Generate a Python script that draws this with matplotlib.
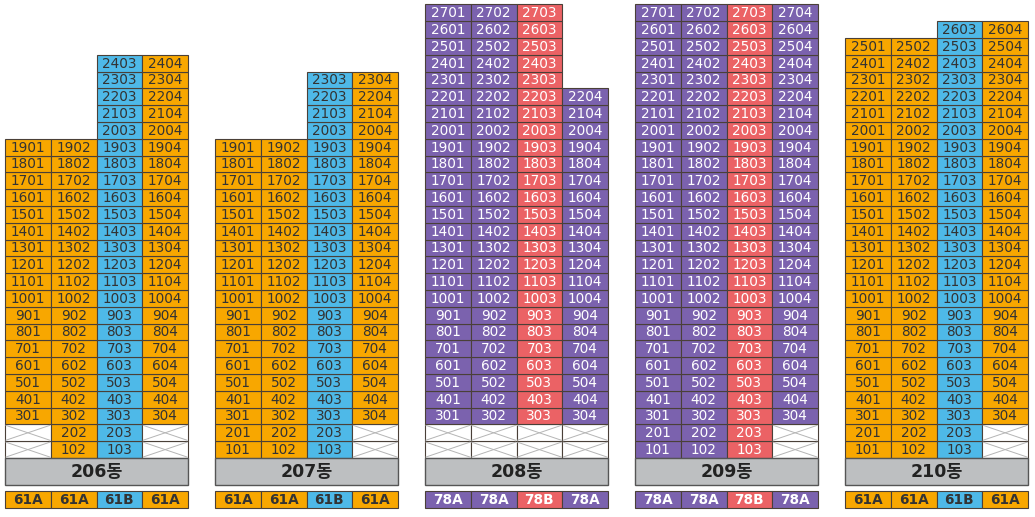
import matplotlib.pyplot as plt
from matplotlib.patches import Rectangle

# building names, unit type per column, lowest and highest floor per column
buildings = ['206동', '207동', '208동', '209동', '210동']
unit_types = [
    ['61A', '61A', '61B', '61A'],
    ['61A', '61A', '61B', '61A'],
    ['78A', '78A', '78B', '78A'],
    ['78A', '78A', '78B', '78A'],
    ['61A', '61A', '61B', '61A'],
]
low_floors = [
    [3, 1, 1, 3],
    [1, 1, 1, 3],
    [3, 3, 3, 3],
    [1, 1, 1, 3],
    [1, 1, 1, 3],
]
top_floors = [
    [19, 19, 24, 24],
    [19, 19, 23, 23],
    [27, 27, 27, 22],
    [27, 27, 27, 27],
    [25, 25, 26, 26],
]

type_colors = {'61A': '#F8A700', '61B': '#4EB9E8', '78A': '#7B62AE', '78B': '#EB6265'}
text_colors = {'61A': '#333333', '61B': '#333333', '78A': 'white', '78B': 'white'}

# layout in pixels
x0, b_step, col_w = 5, 210, 45.75
base_y, row_h = 458, 16.8
band_h = 27
unit_top, unit_h = 491, 17
edge = '#4a4038'
kfont = ['DejaVu Sans', 'Noto Sans CJK KR']

fig = plt.figure(figsize=(10.35, 5.17), dpi=100)
ax = fig.add_axes([0, 0, 1, 1])
ax.set_xlim(0, 1035)
ax.set_ylim(517, 0)
ax.axis('off')

for b, name in enumerate(buildings):
    bx = x0 + b * b_step
    for c in range(4):
        cx = bx + c * col_w
        ut = unit_types[b][c]
        for f in range(1, top_floors[b][c] + 1):
            y = base_y - f * row_h
            if f < low_floors[b][c]:
                ax.add_patch(Rectangle((cx, y), col_w, row_h, facecolor='white',
                                       edgecolor=edge, lw=0.8))
                ax.plot([cx + 1, cx + col_w - 1], [y + 1, y + row_h - 1], color='#b5b5b5', lw=0.7)
                ax.plot([cx + 1, cx + col_w - 1], [y + row_h - 1, y + 1], color='#b5b5b5', lw=0.7)
                continue
            ax.add_patch(Rectangle((cx, y), col_w, row_h, facecolor=type_colors[ut],
                                   edgecolor=edge, lw=0.8))
            ax.text(cx + col_w / 2, y + row_h / 2 + 0.5, f'{f}0{c + 1}', ha='center', va='center',
                    fontsize=9.8, color=text_colors[ut])
        # unit type row
        ax.add_patch(Rectangle((cx, unit_top), col_w, unit_h, facecolor=type_colors[ut],
                               edgecolor=edge, lw=0.8))
        ax.text(cx + col_w / 2, unit_top + unit_h / 2 + 0.5, ut, ha='center', va='center',
                fontsize=9.8, fontweight='bold', color=text_colors[ut])
    # building name band
    ax.add_patch(Rectangle((bx, base_y), 4 * col_w, band_h, facecolor='#BDBFC1',
                           edgecolor='#555555', lw=1.0))
    ax.text(bx + 2 * col_w, base_y + band_h / 2 + 0.5, name, ha='center', va='center',
            fontsize=12.5, fontweight='bold', color='#222222', family=kfont)

fig.savefig('out.png', dpi=100)
